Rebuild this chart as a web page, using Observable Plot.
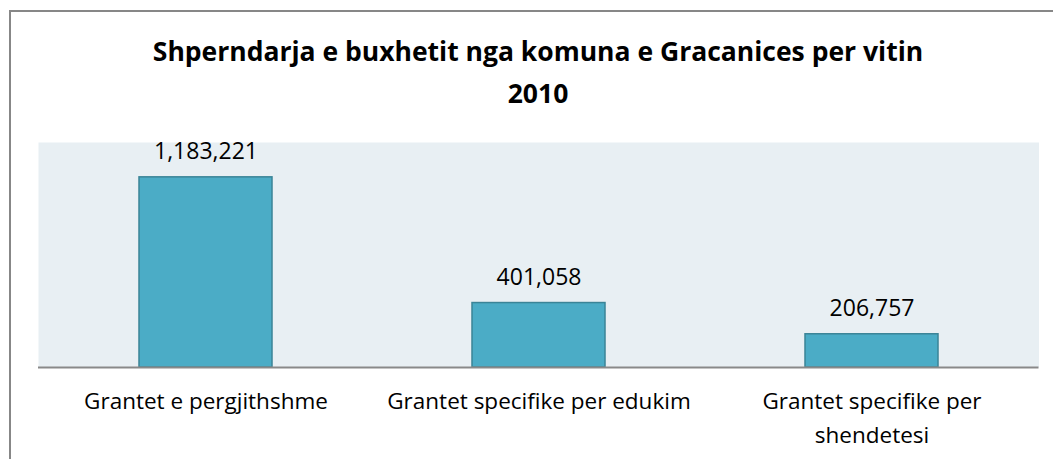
<!DOCTYPE html>
<html>
<head>
<meta charset="utf-8">
<script src="https://cdn.jsdelivr.net/npm/d3@7"></script>
<script src="https://cdn.jsdelivr.net/npm/@observablehq/plot@0.6"></script>
<style>
  html, body { margin: 0; padding: 0; background: #fff; }
  #wrap { position: relative; width: 1053px; height: 459px; overflow: hidden; font-family: "Open Sans", sans-serif; font-variant-ligatures: none; }
  #frame { position: absolute; left: 9px; top: 10px; width: 1200px; height: 600px; border-left: 2px solid #878787; border-top: 2px solid #878787; box-sizing: border-box; }
  #title { position: absolute; left: 0; top: 0; width: 1076px; height: 130px; text-align: center; font-weight: bold; font-size: 26.5px; line-height: 42px; padding-top: 30px; box-sizing: border-box; color: #000; }
  #chart { position: absolute; left: 0; top: 130px; }
  #chart svg text { font-variant-ligatures: none; }
</style>
</head>
<body>
<div id="wrap">
  <div id="frame"></div>
  <div id="title">Shperndarja e buxhetit nga komuna e Gracanices per vitin<br>2010</div>
  <div id="chart"></div>
</div>
<script>
const categories = ["Grantet e pergjithshme", "Grantet specifike per edukim", "Grantet specifike per shendetesi"];
const axisLabels = ["Grantet e pergjithshme", "Grantet specifike per edukim", "Grantet specifike per\nshendetesi"];
const values = [1183221, 401058, 206757];
const valueLabels = ["1,183,221", "401,058", "206,757"];

const data = categories.map((c, i) => ({category: c, value: values[i], label: valueLabels[i]}));
const labelOf = new Map(categories.map((c, i) => [c, axisLabels[i]]));

const chart = Plot.plot({
  width: 1053,
  height: 329,
  marginTop: 12,
  marginBottom: 92,
  marginLeft: 38,
  marginRight: 14.5,
  style: {fontFamily: "'Open Sans', sans-serif", fontSize: "22px", color: "#000", background: "transparent"},
  x: {domain: categories, paddingInner: 0.6, paddingOuter: 0.3, label: null},
  y: {domain: [0, 1400000], axis: null},
  marks: [
    Plot.frame({fill: "#E8EFF3", stroke: null}),
    Plot.barY(data, {x: "category", y: "value", fill: "#4BACC6", stroke: "#3A8497", strokeWidth: 1.5}),
    Plot.ruleY([0], {stroke: "#898989", strokeWidth: 2}),
    Plot.text(data, {x: "category", y: "value", text: "label", lineAnchor: "bottom", dy: -18, fontSize: 23, fill: "#000"}),
    Plot.axisX({tickSize: 0, tickPadding: 17, fontSize: 22.5, lineHeight: 1.51, tickFormat: d => labelOf.get(d), label: null, fill: "#000"})
  ]
});
document.getElementById("chart").appendChild(chart);
</script>
</body>
</html>
